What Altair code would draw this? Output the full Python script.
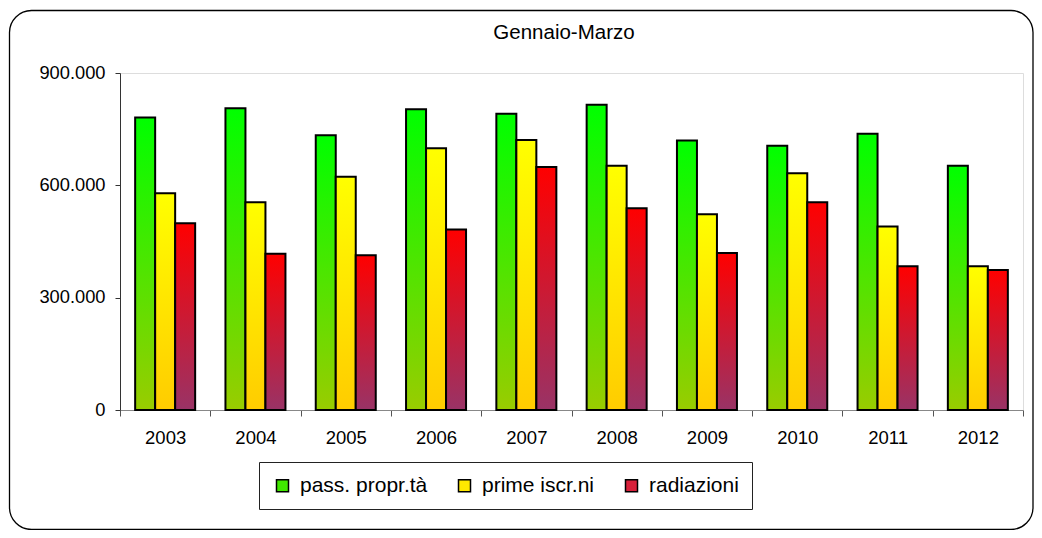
import altair as alt
import pandas as pd

# ---- data ----
years = ["2003", "2004", "2005", "2006", "2007", "2008", "2009", "2010", "2011", "2012"]
series = ["pass. propr.tà", "prime iscr.ni", "radiazioni"]
pass_proprieta = [781000, 806000, 734000, 803000, 791000, 815000, 720000, 706000, 738000, 652000]
prime_iscrizioni = [579000, 555000, 623000, 699000, 721000, 652000, 523000, 632000, 490000, 384000]
radiazioni = [499000, 417000, 413000, 482000, 649000, 539000, 419000, 555000, 384000, 374000]
y_ticks = [0, 300000, 600000, 900000]
chart_title = "Gennaio-Marzo"

gradient_tops = ["#00FF00", "#FFFF00", "#FF0000"]
gradient_bottoms = ["#99CC00", "#FFCC00", "#993366"]
legend_colors = ["#40E800", "#FFE800", "#D8203A"]

rows = []
for i, yr in enumerate(years):
    for s, vals in zip(series, [pass_proprieta, prime_iscrizioni, radiazioni]):
        rows.append({"anno": yr, "serie": s, "valore": vals[i]})
df = pd.DataFrame(rows)

FONT = "Liberation Sans"

x_enc = alt.X(
    "anno:N",
    sort=years,
    scale=alt.Scale(paddingInner=0, paddingOuter=0),
    axis=alt.Axis(
        title=None, labelAngle=0, tickBand="extent", tickSize=6, labelPadding=12,
        labelFontSize=18.5, labelFont=FONT, labelColor="black",
        domainColor="#888888", tickColor="#555555", domainWidth=1.2, grid=False,
    ),
)
xoff_enc = alt.XOffset(
    "serie:N",
    scale=alt.Scale(domain=series, paddingInner=0, paddingOuter=0.7575),
)
y_enc = alt.Y(
    "valore:Q",
    scale=alt.Scale(domain=[0, 900000], nice=False),
    axis=alt.Axis(
        title=None, values=y_ticks, grid=False, tickSize=5, labelPadding=10,
        labelFontSize=18.3, labelFont=FONT, labelColor="black",
        labelExpr="replace(format(datum.value, ','), regexp(',', 'g'), '.')",
        domainColor="#333333", tickColor="#333333", domainWidth=1,
    ),
)

# frame around the whole chart area (decoration)
frame = alt.Chart(pd.DataFrame({"k": [0]})).mark_rect(
    fillOpacity=0, stroke="black", strokeWidth=1.3, cornerRadius=22
).encode(
    x=alt.value(-110.5), x2=alt.value(913), y=alt.value(-62.5), y2=alt.value(456.5)
)

# chart title as text
title_layer = alt.Chart(pd.DataFrame({"t": [chart_title]})).mark_text(
    font=FONT, fontSize=20.5, color="black", align="center", baseline="alphabetic"
).encode(text="t:N", x=alt.value(444), y=alt.value(-33.7))

bar_layers = []
for s, top, bot in zip(series, gradient_tops, gradient_bottoms):
    grad = {
        "gradient": "linear", "x1": 0, "y1": 0, "x2": 0, "y2": 1,
        "stops": [{"offset": 0, "color": top}, {"offset": 1, "color": bot}],
    }
    layer = alt.Chart(df).transform_filter(alt.datum.serie == s).mark_bar(
        fill=grad, stroke="black", strokeWidth=2
    ).encode(x=x_enc, xOffset=xoff_enc, y=y_enc)
    bar_layers.append(layer)

legend_layer = alt.Chart(df).mark_square(opacity=0).encode(
    x=x_enc, xOffset=xoff_enc, y=y_enc,
    color=alt.Color(
        "serie:N",
        scale=alt.Scale(domain=series, range=legend_colors),
        legend=alt.Legend(
            title=None, orient="none", legendX=139, legendY=389,
            direction="horizontal", symbolType="square", symbolSize=144,
            symbolStrokeColor="black", symbolStrokeWidth=1.5, symbolOpacity=1,
            labelFontSize=21, labelFont=FONT, labelColor="black", labelOffset=7,
            labelLimit=0, columnPadding=26, padding=13,
            strokeColor="#222222", fillColor="white",
        ),
    ),
)

chart = alt.layer(frame, title_layer, *bar_layers, legend_layer).properties(
    width=903,
    height=337,
    padding={"left": 112, "top": 65, "right": 11, "bottom": 120},
    autosize=alt.AutoSizeParams(type="none"),
).configure_view(stroke="transparent").configure(background="white")

chart.save("out.html", embed_options={"renderer": "svg", "actions": False})
